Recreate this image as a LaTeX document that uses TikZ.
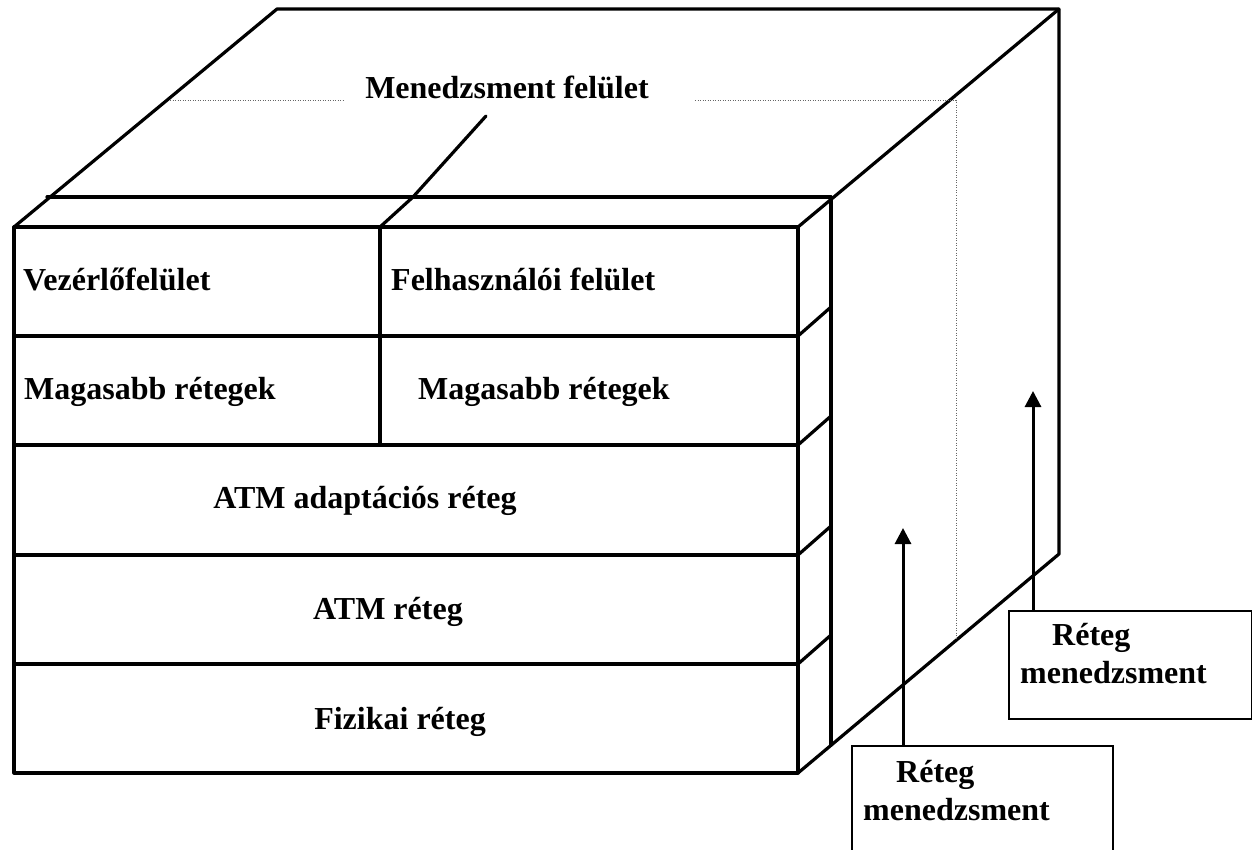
\documentclass[tikz,border=0pt]{standalone}
\usepackage{fontspec}
\setmainfont{Liberation Serif}
\usetikzlibrary{arrows.meta}
\begin{document}
\begin{tikzpicture}[x=1pt,y=-1pt,
  edge/.style={line width=3.2pt, line cap=round, line join=round},
  dots/.style={line width=1pt, black!60, dash pattern=on 1pt off 1.5pt},
  lbl/.style={font=\fontsize{32}{36}\selectfont\bfseries, inner sep=0pt, anchor=base west},
  clbl/.style={lbl, anchor=base},
  arr/.style={line width=3pt, -{Triangle[length=16pt,width=16pt]}},
  mbox/.style={draw, line width=2pt, rectangle, inner sep=0pt, anchor=north west}
]
\useasboundingbox (0,0) rectangle (1252,850);
\clip (0,0) rectangle (1252,850);
% front box
\draw[edge] (14,227) rectangle (798,773);
\foreach \yy in {336,445,555,664}{
  \draw[edge] (14,\yy) -- (798,\yy);
  \draw[edge] (798,\yy) -- (831,\yy-29);
}
\draw[edge] (380,227) -- (380,445);
\draw[edge] (380,227) -- (413,197) -- (486,116);
% top slab and cube
\draw[edge] (47,197) -- (831,197);
\draw[edge] (14,227) -- (277,9) -- (1059,9) -- (1059,554) -- (798,773);
\draw[edge] (798,227) -- (1059,9);
\draw[edge] (831,197) -- (831,745);
% dotted
\draw[dots] (170,101) -- (345,101);
\draw[dots] (695,101) -- (956,101) -- (956,640);
% labels
\node[clbl] (mf) at (507,99) {Menedzsment felület};
\node[lbl] (vez) at (23,290) {Vezérlőfelület};
\node[lbl] (felh) at (391,290) {Felhasználói felület};
\node[lbl] (mag1) at (24,399) {Magasabb rétegek};
\node[lbl] (mag2) at (418,399) {Magasabb rétegek};
\node[clbl] (aal) at (365,508) {ATM adaptációs réteg};
\node[clbl] (atm) at (388,619) {ATM réteg};
\node[clbl] (fiz) at (400,729) {Fizikai réteg};
% management boxes
\node[mbox, minimum width=261pt, minimum height=130pt] (rm1) at (851,745) {};
\node[mbox, minimum width=243pt, minimum height=108pt] (rm2) at (1008,610) {};
\node[lbl] (rm1a) at (896,782) {Réteg};
\node[lbl] (rm1b) at (863,820) {menedzsment};
\node[lbl] (rm2a) at (1052,645) {Réteg};
\node[lbl] (rm2b) at (1020,683) {menedzsment};
\coordinate (t1) at (903,528);
\coordinate (t2) at (1033,391);
\draw[arr] (rm1.north -| t1) -- (t1);
\draw[arr] (rm2.north -| t2) -- (t2);
\end{tikzpicture}
\end{document}
